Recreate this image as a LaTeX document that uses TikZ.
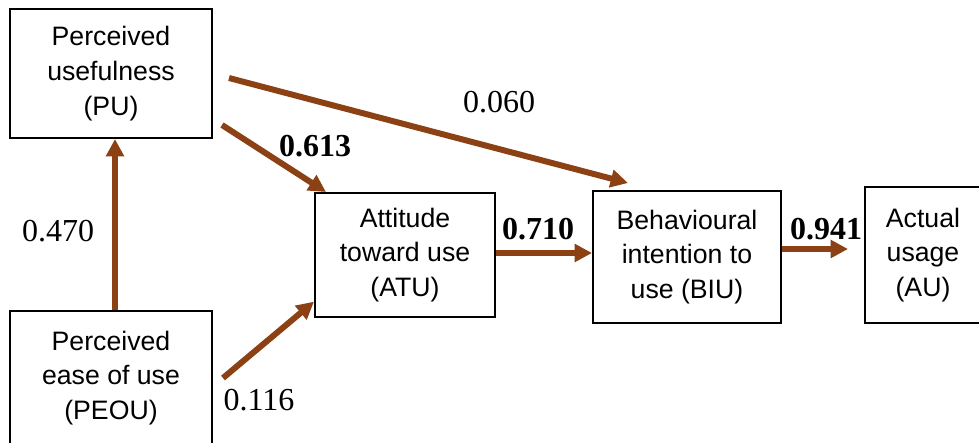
\documentclass[tikz,border=0pt]{standalone}
\usepackage{fontspec}
\setmainfont{Liberation Serif}
\newfontfamily\boxfont{Liberation Sans}
\usetikzlibrary{arrows.meta}
\definecolor{arrowbrown}{RGB}{139,65,19}
\begin{document}
\begin{tikzpicture}[x=0.75pt,y=-0.75pt,
  box/.style={draw=black, line width=1.5pt, align=center, inner sep=0pt,
    font=\boxfont\fontsize{20}{26}\selectfont},
  link/.style={draw=arrowbrown, line width=4.5pt, -{Triangle[length=13pt,width=13pt]}},
  coef/.style={inner sep=0pt, font=\fontsize{24}{28}\selectfont},
  coefb/.style={inner sep=0pt, font=\fontsize{24}{28}\selectfont\bfseries}]
\useasboundingbox (0,0) rectangle (979,443);
% boxes
\node[box, minimum width=151.5pt, minimum height=96.75pt] (PU) at (111,73.5)
  {Perceived\\usefulness\\(PU)};
\node[box, minimum width=151.5pt, minimum height=100.5pt] (PEOU) at (111,378)
  {Perceived\\ease of use\\(PEOU)};
\node[box, minimum width=135pt, minimum height=93pt] (ATU) at (405,255)
  {Attitude\\toward use\\(ATU)};
\node[box, minimum width=141pt, minimum height=99pt] (BIU) at (687,257)
  {Behavioural\\intention to\\use (BIU)};
\node[box, minimum width=87pt, minimum height=102pt] (AU) at (923,255)
  {Actual\\usage\\(AU)};
% free ends
\coordinate (puS1) at (222,125);
\coordinate (puS2) at (229,78);
\coordinate (biuT) at (628,183);
\coordinate (peouS) at (223,378);
% connectors
\draw[link] ([xshift=3pt]PEOU.north) -- ([xshift=3pt]PU.south);
\draw[link] (puS1) -- ([xshift=9pt]ATU.north west);
\draw[link] (puS2) -- (biuT);
\draw[link] (peouS) -- ([yshift=-35pt]ATU.west);
\draw[link] ([yshift=1.5pt]ATU.east) -- ([yshift=1.5pt]ATU.east -| BIU.west);
\draw[link, shorten >=12pt] ([yshift=6pt]BIU.east) -- ([yshift=6pt]BIU.east -| AU.west);
% coefficients
\node[coef] (c060) at (499,102) {0.060};
\node[coefb] (c613) at (315,146) {0.613};
\node[coef] (c470) at (58,231) {0.470};
\node[coef] (c116) at (259,400) {0.116};
\node[coefb] (c710) at (538,229) {0.710};
\node[coefb] (c941) at (826,229) {0.941};
\end{tikzpicture}
\end{document}
